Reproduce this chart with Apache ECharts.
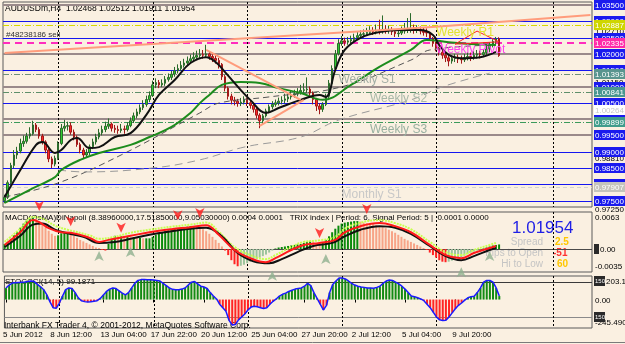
<!DOCTYPE html>
<html><head><meta charset="utf-8">
<script src="https://cdn.jsdelivr.net/npm/echarts@6/dist/echarts.min.js"></script>
<style>html,body{margin:0;padding:0;background:#faf0e1;}#c{width:625px;height:344px;}</style>
</head><body><div id="c"></div>
<script>
const FONT = '"Liberation Sans", Arial, sans-serif';
const N = 187;
const timeLabels = [[0,'5 Jun 2012'],[15,'8 Jun 12:00'],[31,'13 Jun 04:00'],[47,'17 Jun 22:00'],[63,'20 Jun 12:00'],[79,'25 Jun 04:00'],[95,'27 Jun 20:00'],[111,'2 Jul 12:00'],[127,'5 Jul 04:00'],[143,'9 Jul 20:00']];
const separatorIdx = [17,47,77,107,137,174];

const firstOpen = 0.9750;
const closes = [0.9760,0.9805,0.9858,0.9890,0.9902,0.9925,0.9932,0.9948,0.9955,0.9982,
0.9968,0.9948,0.9930,0.9905,0.9878,0.9862,0.9880,0.9925,0.9972,0.9978,
0.9980,0.9960,0.9945,0.9922,0.9905,0.9890,0.9898,0.9915,0.9930,0.9945,
0.9958,0.9968,0.9978,0.9985,0.9972,0.9968,0.9965,0.9970,0.9968,0.9980,
0.9995,1.0010,1.0022,1.0035,1.0045,1.0060,1.0072,1.0105,1.0112,1.0105,
1.0110,1.0122,1.0128,1.0138,1.0148,1.0155,1.0165,1.0172,1.0178,1.0185,
1.0190,1.0195,1.0198,1.0196,1.0200,1.0192,1.0186,1.0180,1.0168,1.0130,
1.0095,1.0070,1.0058,1.0055,1.0048,1.0052,1.0060,1.0050,1.0042,1.0030,
1.0012,0.9995,1.0010,1.0025,1.0038,1.0045,1.0050,1.0055,1.0058,1.0062,
1.0068,1.0074,1.0078,1.0083,1.0088,1.0090,1.0092,1.0080,1.0060,1.0040,
1.0030,1.0045,1.0070,1.0110,1.0155,1.0200,1.0232,1.0240,1.0236,1.0240,
1.0244,1.0250,1.0256,1.0260,1.0262,1.0266,1.0270,1.0268,1.0272,1.0270,
1.0275,1.0272,1.0274,1.0268,1.0262,1.0264,1.0270,1.0272,1.0275,1.0276,
1.0272,1.0274,1.0270,1.0266,1.0264,1.0248,1.0232,1.0218,1.0205,1.0196,
1.0188,1.0178,1.0186,1.0190,1.0184,1.0182,1.0188,1.0192,1.0190,1.0196,
1.0200,1.0198,1.0204,1.0215,1.0228,1.0238,1.0247,1.0195];
const highs = [0.9768,0.9812,0.9866,0.9905,0.9915,0.9940,0.9950,0.9958,0.9975,0.9995,
0.9988,0.9975,0.9955,0.9935,0.9912,0.9885,0.9888,0.9932,0.9985,0.9998,
0.9992,0.9990,0.9968,0.9950,0.9928,0.9912,0.9908,0.9922,0.9940,0.9955,
0.9970,0.9980,0.9992,1.0002,0.9990,0.9982,0.9980,0.9985,0.9980,0.9990,
1.0005,1.0020,1.0032,1.0045,1.0058,1.0072,1.0085,1.0118,1.0125,1.0120,
1.0122,1.0132,1.0140,1.0148,1.0160,1.0168,1.0178,1.0185,1.0192,1.0198,
1.0205,1.0210,1.0215,1.0212,1.0228,1.0208,1.0200,1.0195,1.0188,1.0172,
1.0135,1.0100,1.0078,1.0068,1.0062,1.0065,1.0070,1.0066,1.0058,1.0048,
1.0035,1.0018,1.0016,1.0032,1.0045,1.0055,1.0060,1.0066,1.0070,1.0078,
1.0082,1.0088,1.0090,1.0095,1.0105,1.0110,1.0128,1.0100,1.0085,1.0065,
1.0048,1.0052,1.0078,1.0120,1.0165,1.0212,1.0245,1.0255,1.0250,1.0252,
1.0256,1.0262,1.0268,1.0272,1.0275,1.0280,1.0285,1.0282,1.0290,1.0305,
1.0318,1.0288,1.0286,1.0282,1.0275,1.0278,1.0284,1.0295,1.0310,1.0325,
1.0290,1.0288,1.0284,1.0280,1.0278,1.0268,1.0252,1.0238,1.0222,1.0212,
1.0205,1.0195,1.0195,1.0200,1.0198,1.0195,1.0200,1.0205,1.0204,1.0208,
1.0212,1.0210,1.0215,1.0225,1.0236,1.0245,1.0252,1.0251];
const lows = [0.9742,0.9755,0.9800,0.9850,0.9878,0.9895,0.9915,0.9925,0.9940,0.9950,
0.9960,0.9940,0.9922,0.9895,0.9868,0.9850,0.9855,0.9875,0.9920,0.9962,
0.9965,0.9952,0.9935,0.9915,0.9895,0.9880,0.9882,0.9890,0.9908,0.9922,
0.9938,0.9950,0.9960,0.9970,0.9962,0.9958,0.9955,0.9958,0.9955,0.9962,
0.9975,0.9988,1.0002,1.0015,1.0028,1.0038,1.0052,1.0068,1.0095,1.0095,
1.0098,1.0102,1.0115,1.0120,1.0130,1.0140,1.0148,1.0158,1.0165,1.0170,
1.0178,1.0182,1.0185,1.0185,1.0188,1.0182,1.0175,1.0170,1.0155,1.0120,
1.0085,1.0060,1.0045,1.0042,1.0038,1.0040,1.0045,1.0040,1.0032,1.0020,
1.0002,0.9972,0.9985,1.0005,1.0018,1.0030,1.0038,1.0042,1.0045,1.0048,
1.0052,1.0060,1.0065,1.0070,1.0075,1.0078,1.0080,1.0068,1.0045,1.0025,
1.0015,1.0022,1.0040,1.0065,1.0105,1.0150,1.0195,1.0225,1.0225,1.0228,
1.0232,1.0238,1.0244,1.0248,1.0250,1.0255,1.0258,1.0258,1.0260,1.0260,
1.0262,1.0262,1.0262,1.0258,1.0252,1.0252,1.0258,1.0262,1.0264,1.0265,
1.0262,1.0264,1.0260,1.0256,1.0252,1.0240,1.0222,1.0208,1.0195,1.0185,
1.0175,1.0162,1.0170,1.0175,1.0172,1.0170,1.0175,1.0180,1.0178,1.0182,
1.0186,1.0186,1.0190,1.0196,1.0205,1.0220,1.0230,1.0191];

// moving averages & drawn lines: [barIndex, price]
const blackMA = [[0,0.9761],[5,0.9844],[10,0.9921],[12,0.9930],[16,0.9896],[18,0.9905],[21,0.9936],[23,0.9942],[27,0.9911],[30,0.9914],[35,0.9945],[40,0.9957],[45,1.0013],[49,1.0074],[54,1.0120],[59,1.0172],[64,1.0190],[67,1.0175],[70,1.0144],[75,1.0089],[78,1.0059],[83,1.0019],[87,1.0034],[94,1.0059],[100,1.0074],[102,1.0068],[105,1.0151],[108,1.0212],[113,1.0249],[119,1.0267],[126,1.0273],[132,1.0273],[136,1.0258],[138,1.0227],[141,1.0197],[145,1.0187],[151,1.0190],[156,1.0206]];
const greenMA = [[0,0.9743],[8,0.9783],[16,0.9822],[18,0.9844],[24,0.9875],[30,0.9896],[40,0.9921],[46,0.9945],[53,0.9976],[59,1.0019],[62,1.0049],[65,1.0074],[69,1.0105],[75,1.0114],[81,1.0111],[87,1.0095],[94,1.0080],[101,1.0059],[110,1.0105],[119,1.0160],[129,1.0212],[134,1.0243],[141,1.0236],[148,1.0230],[156,1.0227]];
const darkDashed = [[0,0.9761],[17,0.9804],[37,0.9890],[62,1.0019],[68,1.0049],[84,1.0068],[107,1.0099],[129,1.0181],[135,1.0212],[156,1.0227]];
const lightDashed = [[17,0.9844],[25,0.9838],[47,0.9850],[62,0.9875],[76,0.9914],[94,0.9945],[106,0.9997],[129,1.0059],[139,1.0099],[154,1.0141]];
const trendLines = [
  [[0,1.0203],[137,1.0283],[186,1.0319]],
  [[64,1.0212],[94,1.0059]],
  [[81,0.9979],[95,1.0059]]
];
const redTriangle = [[150,1.0270],[157,1.0237],[143,1.0230],[150,1.0270]];

const blueLevels = [1.030,1.025,1.015,1.005,0.990,0.985,0.980,0.975];
const grayLevels = [1.035,1.020,1.010,1.000,0.995];
const boxLevels = [1.035,1.030,1.025,1.020,1.015,1.010,1.005,1.000,0.995,0.990,0.985,0.980,0.975];
const scaleLabels = [1.0271,1.0115,0.9881,0.9725];
const pivotNames = ['Weekly R1','Weekly Pivot','Weekly S1','Weekly S2','Weekly S3','Monthly S1'];
const pivotValues = [1.02887,1.02335,1.01393,1.00841,0.99899,0.97907];
const pivotLabelIdx = [137,137,106,116,116,107];
const extraBox = 1.00264;

// MACD (units of 0.0001)
const macdHist = [10,14,20,27,34,42,50,56,60,62,
60,55,50,43,36,30,26,27,31,33,
33,30,26,22,18,15,12,9,6,3,
2,-2,-3,10,20,26,25,25,24,24,
23,23,22,22,21,21,21,24,28,31,
33,35,37,38,40,41,42,43,44,45,
45,44,42,39,35,30,24,18,12,5,
-3,-12,-22,-30,-34,-33,-31,-28,-25,-22,
-20,-17,-14,-11,-7,-3,1,3,4,5,
6,7,8,9,10,12,14,15,14,12,
11,13,18,25,33,40,46,50,52,53,
54,55,55,54,52,51,50,49,47,45,
43,41,38,35,32,28,24,20,17,14,
11,8,5,2,-2,-7,-12,-17,-22,-25,
-26,-25,-23,-21,-19,-16,-13,-10,-7,-5,
-3,-1,1,3,5,7,8,9];
const macdRed = [[0,8],[5,33],[9,57],[11,53],[14,41],[18,33],[21,32],[27,22],[30,14],[33,18],[40,26],[46,33],[53,39],[59,43],[64,47],[68,28],[73,-2],[78,-18],[83,-26],[86,-18],[91,-2],[95,8],[100,12],[105,18],[108,33],[113,45],[119,51],[124,45],[129,33],[135,8],[140,-12],[145,-18],[149,-8],[154,2],[156,6]];
const macdBlack = [[0,4],[5,26],[9,48],[12,50],[16,38],[20,31],[25,24],[30,12],[35,14],[40,20],[46,28],[53,35],[59,40],[64,42],[69,25],[74,-8],[79,-24],[84,-28],[88,-20],[93,-6],[98,6],[104,12],[108,25],[113,38],[119,45],[124,42],[129,30],[135,6],[140,-14],[145,-22],[149,-14],[154,-2],[156,2]];
const macdLime = [[0,14],[5,40],[9,63],[12,60],[16,46],[20,38],[27,27],[30,20],[35,24],[40,32],[46,38],[53,44],[59,48],[64,52],[68,34],[73,4],[78,-12],[83,-20],[86,-12],[91,4],[95,14],[100,17],[105,24],[108,40],[113,52],[119,57],[124,51],[129,39],[135,14],[140,-6],[145,-12],[149,-2],[154,8],[156,12]];
const sellArrows = [[11,67],[21,37],[37,24],[55,49],[62,53],[100,14],[115,61]];
const buyArrows = [[30,4],[40,12],[85,-35],[102,-2],[145,-28],[154,4]];
const macdScale = [[63,'0.0063'],[0,'0.00'],[-34,'-0.0035']];

const cci = [99,125,142,145,148,150,152,155,160,155,
130,110,85,40,-20,-70,-75,-30,30,85,
100,95,60,15,-10,-18,-22,-20,-15,-10,
10,40,70,90,100,95,75,55,40,60,
100,140,165,172,172,170,170,168,165,160,
140,120,100,88,85,85,90,100,125,150,
155,135,115,108,95,60,30,5,-40,-70,
-100,-180,-220,-215,-175,-150,-125,-90,-65,-58,
-62,-70,-78,-70,-40,-15,5,30,45,55,
70,80,90,95,100,115,140,120,60,10,
-40,-90,-50,60,130,160,185,185,178,160,
140,125,115,108,105,100,100,98,105,115,
140,160,168,165,150,135,115,90,60,30,
25,15,5,-10,-40,-70,-110,-150,-175,-180,
-178,-150,-115,-80,-50,-30,-5,15,25,28,
60,100,150,165,165,150,100,30];
const cciLevels = [150,-150];
const cciScale = [[203.1,'203.1'],[0,'0.00'],[-245.49,'-245.490']];

// ---- build ----
const labelMap = {}; timeLabels.forEach(([i,t]) => labelMap[i] = t);
const cats = Array.from({length:N}, (_, i) => labelMap[i] || '');
const candles = closes.map((c, i) => [i === 0 ? firstOpen : closes[i-1], c, lows[i], highs[i]]);

const pivotStyles = [
  {color:'#d8d800', dash:[6,2,1,2], w:1, box:'#cfd600'},
  {color:'#ff2dbe', dash:[7,5], w:2, box:'#ff2aa8'},
  {color:'#6e8f7a', dash:[6,2,1,2], w:1, box:'#5a958f'},
  {color:'#5e8f6a', dash:[6,2,1,2], w:1, box:'#4a9690'},
  {color:'#3c9a5a', dash:[6,2,1,2], w:1, box:'#3f9c8c'},
  {color:'#d2d2d2', dash:[4,3], w:1, box:'#c4c4bc'}
];
const mainLines = [];
grayLevels.forEach(v => mainLines.push({v, stroke:'#9a8a8a', w:2}));
blueLevels.forEach(v => mainLines.push({v, stroke:'#1515f0', w:1}));
pivotValues.forEach((v, k) => mainLines.push({v, stroke:pivotStyles[k].color, w:pivotStyles[k].w, dash:pivotStyles[k].dash}));
const mainLabels = [];
scaleLabels.forEach(v => mainLabels.push({v, text:v.toFixed(5), fg:'#000'}));
boxLevels.forEach(v => mainLabels.push({v, text:v.toFixed(5), bg:'#1a1aee', fg:'#fff'}));
pivotValues.forEach((v, k) => mainLabels.push({v, text:v.toFixed(5), bg:pivotStyles[k].box, fg:'#fff'}));
mainLabels.push({v:extraBox, text:extraBox.toFixed(5), bg:'#ffffff', fg:'#c8c8c8'});

const macdLines = [{v:0, stroke:'#4a4a4a', w:1}];
const macdLabels = [
  {v:macdScale[0][0], text:macdScale[0][1], fg:'#000'},
  {v:macdScale[1][0], text:'', bg:'#2a2a2a', bw:5},
  {v:macdScale[1][0], text:macdScale[1][1], fg:'#000', dx:5},
  {v:macdScale[2][0], text:macdScale[2][1], fg:'#000'}
];
const cciLines = [{v:cciLevels[0], stroke:'#3a3a3a', w:1}, {v:cciLevels[1], stroke:'#8a8a8a', w:1}];
const cciLabels = [
  {v:cciScale[0][0], text:cciScale[0][1], fg:'#000', dy:5, dx:11},
  {v:cciScale[1][0], text:cciScale[1][1], fg:'#000'},
  {v:cciScale[2][0], text:cciScale[2][1], fg:'#000', dy:-6},
  {v:cciLevels[0], text:'150', bg:'#2a2a2a', fg:'#fff', bw:11, font:'6px ', dy:-1},
  {v:cciLevels[1], text:'150', bg:'#2a2a2a', fg:'#fff', bw:11, font:'6px '}
];

function levelRenderer(items) {
  return (params, api) => {
    const d = items[params.dataIndex];
    const cs = params.coordSys;
    const y = api.coord([0, api.value(1)])[1];
    const children = [];
    if (d.stroke) {
      const yy = d.w % 2 ? Math.round(y) + 0.5 : Math.round(y);
      children.push({type:'line', shape:{x1:cs.x, y1:yy, x2:cs.x + cs.width, y2:yy},
        style:{stroke:d.stroke, lineWidth:d.w, lineDash:d.dash || null}});
    }
    if (d.text !== undefined) {
      const x = cs.x + cs.width + 2;
      const yc = Math.round(y) + (d.dy || 0);
      if (d.bg) children.push({type:'rect', shape:{x:x, y:yc - 5, width:d.bw || 32, height:10}, style:{fill:d.bg}});
      if (d.text) children.push({type:'text', x:x + 1 + (d.dx || 0), y:yc + 0.5, style:{text:d.text, fill:d.fg,
        font:(d.font || '8px ') + FONT, align:'left', verticalAlign:'middle'}});
    }
    return {type:'group', children};
  };
}
const levelSeries = (items, g, z) => ({type:'custom', xAxisIndex:g, yAxisIndex:g, clip:false, silent:true, z,
  data:items.map(d => [0, d.v]), encode:{x:0, y:1}, renderItem:levelRenderer(items)});
const sepSeries = (g, v) => ({type:'custom', xAxisIndex:g, yAxisIndex:g, clip:false, silent:true, z:2,
  data:separatorIdx.map(i => [i, v]), encode:{x:0, y:1},
  renderItem:(params, api) => {
    const cs = params.coordSys;
    const x = Math.round(api.coord([api.value(0), v])[0]) + 0.5;
    return {type:'line', shape:{x1:x, y1:cs.y, x2:x, y2:cs.y + cs.height}, style:{stroke:'#000', lineWidth:1, lineDash:[2,2]}};
  }});

const pivotLabelColors = ['#e2e232','#ff44ee','#a2aea4','#a8b8a8','#98b0a0','#c8c8c8'];
const pivotLabelOffsets = [8,7,6,7,7,7];
const pivotLabelSeries = {type:'custom', xAxisIndex:0, yAxisIndex:0, clip:false, silent:true, z:8,
  data:pivotNames.map((n, k) => [pivotLabelIdx[k], pivotValues[k]]), encode:{x:0, y:1},
  renderItem:(params, api) => {
    const k = params.dataIndex;
    const p = api.coord([api.value(0), api.value(1)]);
    return {type:'text', x:p[0], y:p[1] + pivotLabelOffsets[k], style:{text:pivotNames[k], fill:pivotLabelColors[k],
      font:'12px ' + FONT, align:'left', verticalAlign:'middle'}};
  }};

const macdColor = p => {
  const i = p.dataIndex, v = macdHist[i], prev = i ? macdHist[i-1] : v;
  if (v >= 0) return v >= prev ? '#0b8a0b' : '#f7a487';
  return v < prev ? '#ff2222' : '#9cc49c';
};

const lineS = (data, color, width, extra) => Object.assign({type:'line', data, showSymbol:false, symbol:'none', smooth:0.4,
  lineStyle:{color, width}, silent:true, z:4}, extra || {});

const option = {
  animation:false,
  backgroundColor:'#faf0e1',
  grid:[
    {left:3, right:33, top:2, height:205, show:true, borderColor:'#5a5a5a', borderWidth:1},
    {left:3, right:33, top:212, height:60, show:true, borderColor:'#5a5a5a', borderWidth:1},
    {left:3, right:33, top:276, height:52, show:true, borderColor:'#5a5a5a', borderWidth:1}
  ],
  xAxis:[0,1,2].map(g => ({type:'category', gridIndex:g, data:cats, boundaryGap:true,
    axisLine:{show:false}, splitLine:{show:false},
    axisTick:{show:g === 2, alignWithLabel:true, interval:(i, v) => v !== '', length:3, lineStyle:{color:'#000'}},
    axisLabel:{show:g === 2, interval:(i, v) => v !== '', align:'left', margin:3, fontSize:8, fontFamily:FONT, color:'#000', padding:[0,0,0,-3]}})),
  yAxis:[
    {gridIndex:0, min:0.97304, max:1.03592, position:'right', axisLabel:{show:false}, axisLine:{show:false}, axisTick:{show:false}, splitLine:{show:false}},
    {gridIndex:1, min:-45.3, max:72.9, position:'right', axisLabel:{show:false}, axisLine:{show:false}, axisTick:{show:false}, splitLine:{show:false}},
    {gridIndex:2, min:-245.49, max:203.1, position:'right', axisLabel:{show:false}, axisLine:{show:false}, axisTick:{show:false}, splitLine:{show:false}}
  ],
  series:[
    levelSeries(mainLines, 0, 1),
    sepSeries(0, 1.0),
    {type:'candlestick', xAxisIndex:0, yAxisIndex:0, data:candles, barWidth:2, z:3, silent:true,
      itemStyle:{color:'#2fcc2f', color0:'#ff2a2a', borderColor:'#2b6a2b', borderColor0:'#a01818', borderWidth:1}},
    lineS(darkDashed, '#555555', 1, {lineStyle:{color:'#555555', width:1, type:[6,4]}}),
    lineS(lightDashed, '#9a9a9a', 1, {lineStyle:{color:'#9a9a9a', width:1, type:[8,5]}}),
    lineS(greenMA, '#1c8c1c', 2),
    lineS(blackMA, '#111111', 2),
    ...trendLines.map(t => lineS(t, '#ff9c7c', 2, {smooth:false})),
    lineS(redTriangle, '#ff2020', 1, {smooth:false}),
    pivotLabelSeries,
    levelSeries(mainLabels, 0, 10),

    levelSeries(macdLines, 1, 1),
    sepSeries(1, 0),
    {type:'bar', xAxisIndex:1, yAxisIndex:1, data:macdHist, barWidth:2, itemStyle:{color:macdColor}, silent:true, z:2},
    lineS(macdLime, '#c8ff50', 2, {xAxisIndex:1, yAxisIndex:1, lineStyle:{color:'#c8ff50', width:2, type:[2,1]}}),
    lineS(macdBlack, '#111111', 2, {xAxisIndex:1, yAxisIndex:1}),
    lineS(macdRed, '#ff1a1a', 2, {xAxisIndex:1, yAxisIndex:1}),
    {type:'scatter', xAxisIndex:1, yAxisIndex:1, data:sellArrows, symbol:'arrow', symbolRotate:180, symbolSize:[7,10], symbolOffset:[0,-4], itemStyle:{color:'#ff1a1a'}, silent:true, z:6},
    {type:'scatter', xAxisIndex:1, yAxisIndex:1, data:buyArrows, symbol:'arrow', symbolSize:[7,10], symbolOffset:[0,4], itemStyle:{color:'#8fb08f'}, silent:true, z:6},
    levelSeries(macdLabels, 1, 10),

    levelSeries(cciLines, 2, 1),
    sepSeries(2, 0),
    {type:'bar', xAxisIndex:2, yAxisIndex:2, data:cci, barWidth:2, itemStyle:{color:p => p.value >= 0 ? '#138a13' : '#ff2424'}, silent:true, z:2},
    lineS(cci, '#1a1aff', 1.5, {xAxisIndex:2, yAxisIndex:2, smooth:false}),
    levelSeries(cciLabels, 2, 10)
  ],
  graphic:[
    {type:'line', shape:{x1:0, y1:342.5, x2:625, y2:342.5}, style:{stroke:'#7a7a7a', lineWidth:1}},
    {type:'text', x:5, y:4, style:{text:'AUDUSDm,H4  1.02468 1.02512 1.01911 1.01954', font:'8.5px ' + FONT, fill:'#000'}},
    {type:'text', x:6, y:31, style:{text:'#48238186 sell', font:'8px ' + FONT, fill:'#333'}},
    {type:'text', x:5, y:214, style:{text:'MACD(OsMA)DiNapoli (8.38960000,17.51850000,9.05030000) 0.0004 0.0001   TRIX index | Period: 6, Signal Period: 5 |  0.0001 0.0000', font:'8px ' + FONT, fill:'#000'}},
    {type:'text', x:5, y:278, style:{text:'STOCCCI(14, 5) 99.1871', font:'8px ' + FONT, fill:'#000'}},
    {type:'text', x:4, y:321, style:{text:'Interbank FX Trader 4, \u00a9 2001-2012, MetaQuotes Software Corp.', font:'8.5px ' + FONT, fill:'#000'}},
    {type:'text', x:512, y:220, style:{text:'1.01954', font:'17px ' + FONT, fill:'#1f1fe6'}},
    {type:'text', x:543, y:242, style:{text:'Spread', font:'10px ' + FONT, fill:'#c4c4c4', align:'right', verticalAlign:'middle'}},
    {type:'text', x:543, y:253, style:{text:'Pips to Open', font:'10px ' + FONT, fill:'#c4c4c4', align:'right', verticalAlign:'middle'}},
    {type:'text', x:543, y:264, style:{text:'Hi to Low', font:'10px ' + FONT, fill:'#c4c4c4', align:'right', verticalAlign:'middle'}},
    {type:'text', x:555, y:242, style:{text:'2.5', font:'bold 10px ' + FONT, fill:'#ffc800', verticalAlign:'middle'}},
    {type:'text', x:553, y:253, style:{text:'-51', font:'bold 10px ' + FONT, fill:'#ff3030', verticalAlign:'middle'}},
    {type:'text', x:557, y:264, style:{text:'60', font:'bold 10px ' + FONT, fill:'#ffc800', verticalAlign:'middle'}}
  ]
};
const chart = echarts.init(document.getElementById('c'), null, {renderer:'canvas'});
chart.setOption(option);
</script></body></html>
